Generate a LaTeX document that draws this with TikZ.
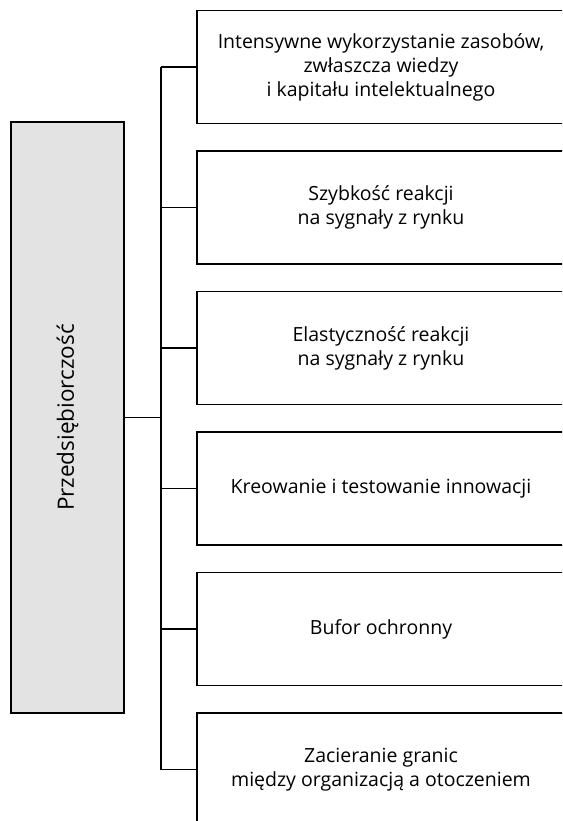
\documentclass[tikz,border=0pt]{standalone}
\usepackage{fontspec}
\setmainfont{Open Sans}
\begin{document}
\begin{tikzpicture}[x=1pt,y=-1pt,
  line width=1.6pt,
  root/.style={draw, fill=rootgray, minimum width=113pt, minimum height=591pt, inner sep=0pt},
  leaf/.style={draw, minimum width=368pt, minimum height=113pt, inner sep=0pt,
    align=center, font=\fontsize{19.5}{24}\selectfont},
]
\definecolor{rootgray}{HTML}{E3E3E3}
\useasboundingbox (0,0) rectangle (562,821);
\clip (0,0) rectangle (562,821);

% root concept on the left
\node[root] (L) at (67.5,417.5) {};
\node[rotate=90, font=\fontsize{22.5}{26}\selectfont] (Lt) at (L.center) {Przedsiębiorczość};

% features on the right
\node[leaf] (b1) at (381,67)    {Intensywne wykorzystanie zasobów,\\zwłaszcza wiedzy\\i kapitału intelektualnego};
\node[leaf] (b2) at (381,207.5) {Szybkość reakcji\\na sygnały z rynku};
\node[leaf] (b3) at (381,348)   {Elastyczność reakcji\\na sygnały z rynku};
\node[leaf] (b4) at (381,488.5) {Kreowanie i testowanie innowacji};
\node[leaf] (b5) at (381,629)   {Bufor ochronny};
\node[leaf] (b6) at (381,769.5) {Zacieranie granic\\między organizacją a otoczeniem};

% tree connectors
\coordinate (tt) at (161,67);
\coordinate (tb) at (161,769.5);
\draw (tt) -- (tb);
\draw (L.east) -- (L.east -| tt);
\foreach \b in {b1,b2,b3,b4,b5,b6}
  \draw (\b.west) -- (\b.west -| tt);
\end{tikzpicture}
\end{document}
